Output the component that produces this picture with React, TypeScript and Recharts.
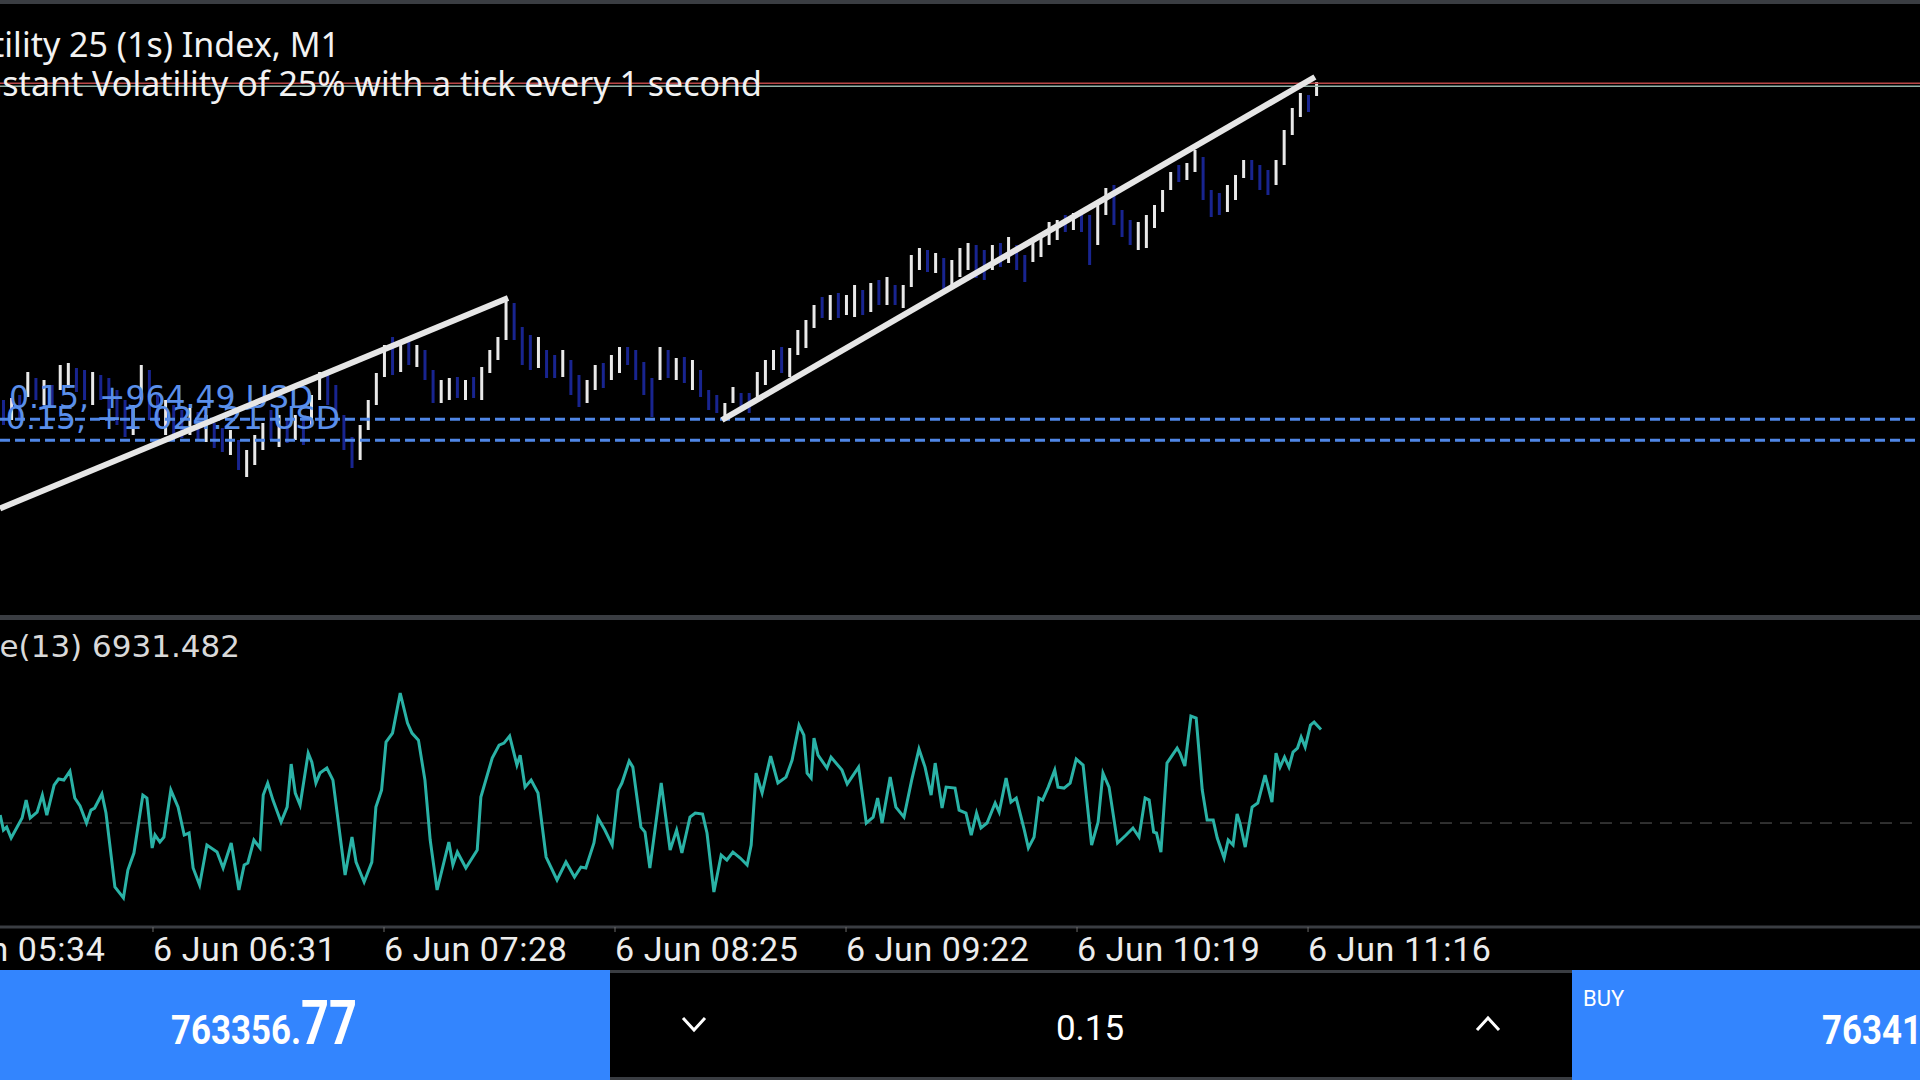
import React from 'react';
import { ComposedChart, Bar, Cell, Line, XAxis, YAxis, ReferenceLine } from 'recharts';

// ---------- DATA ----------
const symbolTitle = 'Volatility 25 (1s) Index, M1';
const symbolDesc = 'Constant Volatility of 25% with a tick every 1 second';
const indicatorName = 'Force(13)';
const tickDay = '6 Jun';
const timeTicks = [334, 391, 448, 505, 562, 619, 676]; // minutes since 00:00

const bidPrice = 763356.77;
const askPrice = 763416.77;
const lotText = '0.15';

const positionPrices = [756694, 756274];
const positionLabels = ['0.15, +964.49 USD', '0.15, +1 024.21 USD'];

// trend lines: [startTime, startPrice, endTime, endPrice]
const trendLines: [number, number, number, number][] = [
  [353.25, 754912, 478.6, 759120],
  [531.4, 756680, 677.7, 763540],
];

const candleTime = [
  354, 356, 358, 360, 362, 364, 366, 368, 370, 372,
  374, 376, 378, 380, 382, 384, 386, 388, 390, 392,
  394, 396, 398, 400, 402, 404, 406, 408, 410, 412,
  414, 416, 418, 420, 422, 424, 426, 428, 430, 432,
  434, 436, 438, 440, 442, 444, 446, 448, 450, 452,
  454, 456, 458, 460, 462, 464, 466, 468, 470, 472,
  474, 476, 478, 480, 482, 484, 486, 488, 490, 492,
  494, 496, 498, 500, 502, 504, 506, 508, 510, 512,
  514, 516, 518, 520, 522, 524, 526, 528, 530, 532,
  534, 536, 538, 540, 542, 544, 546, 548, 550, 552,
  554, 556, 558, 560, 562, 564, 566, 568, 570, 572,
  574, 576, 578, 580, 582, 584, 586, 588, 590, 592,
  594, 596, 598, 600, 602, 604, 606, 608, 610, 612,
  614, 616, 618, 620, 622, 624, 626, 628, 630, 632,
  634, 636, 638, 640, 642, 644, 646, 648, 650, 652,
  654, 656, 658, 660, 662, 664, 666, 668, 670, 672,
  674, 676, 678,
];

const candleLow = [
  756580, 756680, 756720, 757140, 757080, 756980, 756920, 757280, 757320, 757240,
  757080, 756980, 757080, 756880, 756580, 756340, 756380, 757080, 756680, 756580,
  756380, 756280, 756320, 756380, 756280, 756240, 756120, 756040, 755980, 755680,
  755540, 755780, 756080, 756280, 756140, 756220, 756280, 756180, 756580, 757080,
  756980, 756620, 756080, 755720, 755880, 756480, 756980, 757540, 757580, 757640,
  757780, 757740, 757480, 757020, 757020, 757080, 757120, 757080, 757120, 757080,
  757620, 757880, 758280, 758280, 757780, 757680, 757720, 757520, 757520, 757540,
  757180, 756940, 757020, 757280, 757320, 757480, 757620, 757780, 757480, 757180,
  756740, 757480, 757520, 757480, 757420, 757280, 757140, 756880, 756820, 756720,
  757020, 756880, 756820, 757120, 757380, 757680, 757620, 757540, 757980, 758120,
  758520, 758720, 758680, 758720, 758780, 758740, 758780, 758840, 758980, 758980,
  758980, 758920, 759340, 759680, 759640, 759620, 759280, 759380, 759540, 759680,
  759520, 759480, 759680, 759740, 759820, 759680, 759440, 759840, 759940, 760180,
  760280, 760440, 760480, 760440, 759780, 760180, 760780, 760580, 760340, 760180,
  760080, 760120, 760520, 760840, 761280, 761440, 761480, 761640, 761080, 760740,
  760780, 760840, 761080, 761520, 761480, 761280, 761180, 761380, 761780, 762380,
  762740, 762840, 763160,
];

const candleHigh = [
  757080, 757120, 757180, 757640, 757520, 757480, 757380, 757780, 757820, 757720,
  757680, 757640, 757580, 757520, 757280, 757080, 756980, 757780, 757680, 757180,
  757080, 756980, 756880, 756920, 756840, 756780, 756620, 756520, 756480, 756280,
  756080, 756380, 756620, 756880, 756780, 756680, 756780, 756680, 757180, 757640,
  757680, 757380, 756780, 756340, 756580, 757080, 757620, 758180, 758340, 758180,
  758240, 758180, 758080, 757680, 757480, 757520, 757540, 757480, 757540, 757740,
  758080, 758340, 759080, 759020, 758540, 758380, 758340, 758080, 757980, 758080,
  757880, 757580, 757480, 757780, 757820, 757980, 758140, 758140, 758080, 757840,
  757520, 758140, 758080, 757920, 757940, 757880, 757680, 757280, 757180, 757020,
  757340, 757220, 757220, 757640, 757880, 758080, 758140, 758120, 758480, 758680,
  758980, 759140, 759180, 759220, 759180, 759380, 759280, 759420, 759480, 759540,
  759380, 759380, 759980, 760120, 760080, 760020, 759920, 759880, 760120, 760220,
  760180, 760080, 760180, 760220, 760340, 760180, 759980, 760280, 760420, 760640,
  760680, 760780, 760820, 760820, 760780, 761080, 761320, 761380, 760880, 760680,
  760640, 760780, 760980, 761280, 761640, 761780, 761820, 762080, 761940, 761280,
  761220, 761380, 761580, 761880, 761880, 761780, 761680, 761880, 762480, 762920,
  763220, 763180, 763440,
];

const candleUp = [
  0, 1, 0, 1, 0, 1, 0, 1, 1, 0,
  0, 1, 0, 0, 0, 0, 1, 1, 0, 0,
  1, 0, 0, 1, 0, 1, 0, 0, 1, 0,
  1, 1, 1, 0, 1, 0, 1, 0, 1, 1,
  0, 0, 0, 0, 1, 1, 1, 1, 0, 1,
  0, 1, 0, 0, 1, 1, 0, 1, 0, 1,
  1, 1, 1, 0, 0, 0, 1, 0, 0, 1,
  0, 0, 1, 1, 0, 1, 1, 0, 0, 0,
  0, 1, 0, 1, 0, 1, 0, 0, 0, 1,
  1, 0, 0, 1, 1, 1, 0, 1, 1, 1,
  1, 0, 1, 0, 1, 1, 0, 1, 0, 1,
  0, 1, 1, 1, 0, 1, 0, 1, 1, 1,
  0, 0, 1, 0, 1, 0, 0, 1, 1, 1,
  1, 0, 1, 0, 0, 1, 1, 0, 0, 0,
  1, 1, 1, 1, 1, 0, 1, 1, 0, 0,
  0, 1, 1, 1, 0, 0, 0, 1, 1, 1,
  1, 0, 1,
];

// Force index (13): [time, value]
const forcePoints: [number, number][] = [
  [353.3, 590], [354.1, -520], [354.9, -300], [356.0, -1110], [358.7, 370], [359.7, 1700], [360.7, 370], [362.4, 810], [363.7, 2070], [364.8, 590],
  [366.6, 2810], [367.7, 3260], [369.0, 3180], [370.5, 3850], [371.7, 1850], [373.0, 1260], [374.6, 0], [375.7, 960], [376.6, 1110], [378.4, 2150],
  [379.4, 740], [381.6, -4740], [383.7, -5550], [384.8, -3480], [386.3, -2220], [388.5, 2070], [389.5, 1850], [390.8, -1850], [391.5, -890], [392.7, -1410],
  [393.7, -1040], [395.4, 2440], [397.2, 1180], [398.7, -890], [399.9, -740], [400.9, -3330], [402.5, -4590], [404.3, -1630], [406.8, -2150], [408.3, -3330],
  [410.3, -1480], [412.2, -4960], [413.5, -3110], [414.4, -2960], [415.9, -1260], [417.4, -1850], [418.2, 2070], [419.3, 2960], [420.6, 1700], [422.6, 70],
  [424.1, 1180], [425.1, 4370], [426.1, 2220], [427.3, 1330], [429.3, 5180], [430.2, 4510], [431.2, 2960], [432.2, 3700], [433.9, 4070], [435.4, 3180],
  [438.4, -3850], [440.1, -1040], [441.1, -2890], [443.1, -4370], [445.0, -2890], [446.0, 1180], [447.4, 2440], [448.5, 5990], [450.1, 6660], [452.0, 9620],
  [453.8, 7400], [454.9, 6660], [456.5, 6140], [458.1, 3180], [459.4, -1260], [461.1, -4960], [464.0, -1410], [465.0, -3110], [466.1, -2150], [468.2, -3330],
  [471.0, -2000], [471.9, 1920], [474.7, 4810], [476.4, 5770], [477.6, 5920], [479.0, 6440], [480.8, 4290], [481.6, 5030], [482.8, 2660], [484.3, 3180],
  [486.0, 2220], [488.0, -2520], [490.7, -4220], [492.9, -2890], [495.0, -4000], [496.6, -3260], [497.8, -3330], [499.8, -1480], [500.8, 370], [502.5, -520],
  [504.3, -1630], [505.8, 2440], [506.7, 2960], [508.5, 4590], [509.4, 4140], [511.4, -300], [512.4, -670], [513.6, -3330], [516.4, 2960], [518.6, -2000],
  [520.2, -520], [521.5, -2220], [523.5, 440], [524.8, 740], [526.6, 670], [527.7, -740], [529.4, -5110], [531.2, -2370], [532.6, -2740], [534.1, -2150],
  [535.9, -2590], [537.6, -3110], [538.6, -1630], [539.8, 3700], [541.3, 2220], [543.4, 4960], [545.2, 2960], [547.2, 3400], [548.7, 4660], [550.4, 7250],
  [551.6, 6510], [552.4, 3700], [553.4, 3330], [554.1, 6290], [555.1, 5030], [557.3, 4070], [558.3, 4880], [561.0, 3920], [562.3, 2890], [565.1, 4140],
  [567.0, 0], [568.7, 440], [569.8, 1850], [570.9, 0], [572.9, 3400], [574.3, 1180], [576.3, 440], [578.2, 3180], [580.0, 5480], [581.5, 4140],
  [583.0, 2070], [584.0, 4440], [585.7, 1110], [586.7, 2660], [588.9, 2590], [589.9, 960], [591.6, 740], [592.9, -890], [594.2, 740], [595.3, -370],
  [596.8, 0], [598.8, 1480], [599.8, 810], [601.5, 3330], [602.7, 1550], [604.0, 1850], [606.0, -520], [607.0, -1850], [608.4, -1040], [609.6, 1850],
  [610.5, 1700], [611.9, 2660], [613.5, 3920], [614.3, 2660], [615.8, 2590], [617.3, 2960], [618.8, 4740], [620.5, 4290], [622.6, -1630], [624.2, 70],
  [625.4, 3700], [626.9, 2660], [629.0, -1480], [631.1, -890], [632.8, -370], [634.3, -1040], [635.8, 1850], [636.8, 1700], [637.9, -670], [638.6, -740],
  [639.7, -2150], [641.2, 4440], [643.7, 5550], [644.4, 5180], [645.6, 4220], [647.1, 7920], [648.4, 7770], [649.9, 2440], [651.1, 220], [652.6, 220],
  [653.6, -1110], [655.3, -2590], [656.3, -1260], [657.5, -1630], [658.5, 670], [659.2, 0], [660.5, -1780], [662.2, 1180], [663.6, 1480], [665.4, 3550],
  [667.1, 1550], [668.1, 5180], [669.1, 4140], [670.2, 4880], [671.3, 4140], [672.3, 5250], [673.4, 5550], [674.3, 6360], [675.3, 5620], [676.6, 7250],
  [677.5, 7470], [679.2, 6931.482],
];

// ---------- LAYOUT / STYLE ----------
const X_DOMAIN: [number, number] = [353.25, 827];
const PRICE_DOMAIN: [number, number] = [752800, 765000];
const FORCE_DOMAIN: [number, number] = [-7700, 12000];

const UP = '#e9e9e9';
const DOWN = '#18248f';
const POS_BLUE = '#4f86e6';
const PANEL_BLUE = '#3385fe';
const GRID_GRAY = '#3a3d42';

const candleData = candleTime.map((t, i) => ({
  t,
  range: [candleLow[i], candleHigh[i]],
  up: candleUp[i] === 1,
}));
const forceData = forcePoints.map(([t, v]) => ({ t, v }));
const lastForce = forcePoints[forcePoints.length - 1][1];

const pad = (n: number) => String(n).padStart(2, '0');
const fmtTime = (m: number) => `${tickDay} ${pad(Math.floor(m / 60))}:${pad(Math.round(m % 60))}`;

const labelEnds = [313, 340];

const TimeTick = (props: any) => {
  const { x, y, payload } = props;
  return (
    <text x={x} y={y + 27} textAnchor="start" fill="#ececec" fontSize={34} letterSpacing={0.6} fontFamily="Roboto">
      {fmtTime(payload.value)}
    </text>
  );
};

function splitPrice(p: number) {
  const s = p.toFixed(2);
  const idx = s.indexOf('.');
  return [s.slice(0, idx + 1), s.slice(idx + 1)];
}

export default function App() {
  const [bidMain, bidFrac] = splitPrice(bidPrice);
  const [askMain, askFrac] = splitPrice(askPrice);
  return (
    <div style={{ position: 'absolute', left: 0, top: 0, width: 1920, height: 1080, background: '#000', overflow: 'hidden' }}>
      <style>{'body{margin:0;background:#000;}'}</style>

      {/* main price panel */}
      <div style={{ position: 'absolute', left: 0, top: 0 }}>
        <ComposedChart width={1920} height={616} data={candleData} margin={{ top: 4, right: 0, bottom: 2, left: 0 }}>
          <XAxis dataKey="t" type="number" domain={X_DOMAIN} allowDataOverflow hide />
          <YAxis type="number" domain={PRICE_DOMAIN} allowDataOverflow hide />
          <Bar dataKey="range" barSize={3} isAnimationActive={false}>
            {candleData.map((d, i) => (
              <Cell key={i} fill={d.up ? UP : DOWN} />
            ))}
          </Bar>
          <ReferenceLine y={askPrice} stroke="#b94646" strokeWidth={1.5} />
          <ReferenceLine y={bidPrice} stroke="#95b3a9" strokeWidth={1.5} />
          {positionPrices.map((p, i) => (
            <ReferenceLine
              key={'pos' + i}
              y={p}
              stroke={POS_BLUE}
              strokeWidth={3}
              strokeDasharray="10 5"
              label={(lp: any) => {
                const vb = lp.viewBox || {};
                return (
                  <text x={labelEnds[i]} y={(vb.y ?? 0) - 11} textAnchor="end" fill="#5a8fea" fontSize={31.5} fontFamily="DejaVu Sans">
                    {positionLabels[i]}
                  </text>
                );
              }}
            />
          ))}
          {trendLines.map(([x1, y1, x2, y2], i) => (
            <ReferenceLine
              key={'tl' + i}
              segment={[{ x: x1, y: y1 }, { x: x2, y: y2 }]}
              stroke="#e6e6e6"
              strokeWidth={6}
              ifOverflow="visible"
            />
          ))}
        </ComposedChart>
      </div>

      {/* indicator panel + time axis */}
      <div style={{ position: 'absolute', left: 0, top: 616 }}>
        <ComposedChart width={1920} height={354} data={forceData} margin={{ top: 45, right: 0, bottom: 0, left: 0 }}>
          <XAxis
            dataKey="t"
            type="number"
            domain={X_DOMAIN}
            allowDataOverflow
            ticks={timeTicks}
            interval={0}
            height={43}
            tickSize={5}
            tickLine={{ stroke: '#6a6a6a' }}
            axisLine={{ stroke: GRID_GRAY, strokeWidth: 3 }}
            tick={(p: any) => <TimeTick {...p} />}
          />
          <YAxis type="number" domain={FORCE_DOMAIN} allowDataOverflow hide />
          <ReferenceLine y={0} stroke="#5e5e5e" strokeWidth={1} strokeDasharray="12 8" />
          <Line dataKey="v" type="linear" stroke="#2ab2a6" strokeWidth={3} dot={false} isAnimationActive={false} />
        </ComposedChart>
      </div>

      {/* borders */}
      <div style={{ position: 'absolute', left: 0, top: 0, width: 1920, height: 4, background: GRID_GRAY }} />
      <div style={{ position: 'absolute', left: 0, top: 615, width: 1920, height: 5, background: GRID_GRAY }} />

      {/* text overlay */}
      <svg width={1920} height={700} style={{ position: 'absolute', left: 0, top: 0, pointerEvents: 'none' }}>
        <text x={340} y={57} textAnchor="end" fill="#f2f2f2" fontSize={34} fontFamily="Noto Sans">{symbolTitle}</text>
        <text x={762} y={96} textAnchor="end" fill="#f2f2f2" fontSize={34} fontFamily="Noto Sans">{symbolDesc}</text>
        <text x={240} y={657} textAnchor="end" fill="#d9d9d9" fontSize={31} fontFamily="DejaVu Sans">
          {indicatorName} {lastForce.toFixed(3)}
        </text>
      </svg>

      {/* bottom trade bar */}
      <svg width={1920} height={110} style={{ position: 'absolute', left: 0, top: 970 }}>
        <rect x={0} y={0} width={610} height={110} fill={PANEL_BLUE} />
        <rect x={1572} y={0} width={348} height={110} fill={PANEL_BLUE} />
        <rect x={610} y={0} width={962} height={3} fill={GRID_GRAY} />
        <rect x={610} y={107} width={962} height={3} fill={GRID_GRAY} />
        <text x={171} y={74} fill="#fff" fontSize={41} fontWeight={700} fontFamily="Roboto" textLength={130} lengthAdjust="spacingAndGlyphs">{bidMain}</text>
        <text x={301} y={74} fill="#fff" fontSize={62} fontWeight={700} fontFamily="Roboto" textLength={56} lengthAdjust="spacingAndGlyphs">{bidFrac}</text>
        <polyline points="683,48 694,60 705,48" fill="none" stroke="#fff" strokeWidth={3} />
        <text x={1090} y={70} textAnchor="middle" fill="#fff" fontSize={35} fontFamily="Roboto">{lotText}</text>
        <polyline points="1477,60 1488,48 1499,60" fill="none" stroke="#fff" strokeWidth={3} />
        <text x={1583} y={36} fill="#fff" fontSize={22} fontFamily="Roboto">BUY</text>
        <text x={1822} y={74} fill="#fff" fontSize={41} fontWeight={700} fontFamily="Roboto" textLength={130} lengthAdjust="spacingAndGlyphs">{askMain}</text>
        <text x={1952} y={74} fill="#fff" fontSize={62} fontWeight={700} fontFamily="Roboto" textLength={56} lengthAdjust="spacingAndGlyphs">{askFrac}</text>
      </svg>
    </div>
  );
}
